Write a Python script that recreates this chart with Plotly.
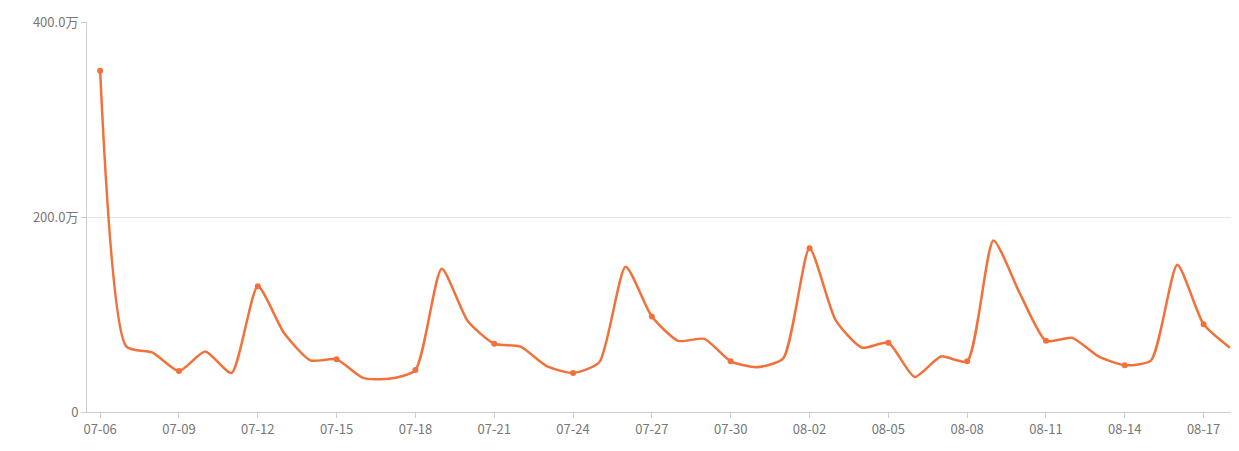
import plotly.graph_objects as go
import datetime as dt

start = dt.date(2024, 7, 6)
dates = [(start + dt.timedelta(days=i)).strftime("%m-%d") for i in range(44)]
values = [350, 67, 61, 42, 62, 40, 129, 81, 53, 54, 35, 34, 43, 147, 93, 70, 67, 47, 40, 51,
          149, 98, 73, 75, 52, 46, 55, 168, 94, 66, 71, 36, 57, 52, 176, 122, 73, 76, 57, 48,
          53, 151, 90, 66]
color = "#F2713A"

fig = go.Figure()
fig.add_trace(go.Scatter(x=dates, y=values, mode="lines",
                         line=dict(color=color, width=2.5, shape="spline", smoothing=0.6),
                         hoverinfo="x+y"))
fig.add_trace(go.Scatter(x=dates[::3], y=values[::3], mode="markers",
                         marker=dict(color=color, size=6), hoverinfo="skip"))
fig.update_layout(
    width=1239, height=451, showlegend=False,
    plot_bgcolor="white", paper_bgcolor="white",
    margin=dict(l=79, r=4, t=14, b=47, autoexpand=False),
    font=dict(family="Microsoft YaHei, Noto Sans CJK SC, sans-serif", size=13, color="#777"),
    xaxis=dict(type="category", range=[-0.5, 43.5], tickmode="array", automargin=False,
               tickvals=dates[::3], ticktext=dates[::3], showgrid=False,
               showline=True, linecolor="#ccc", ticks="outside", ticklen=5, tickcolor="#ccc"),
    yaxis=dict(range=[0, 400], tickvals=[0, 200, 400], ticktext=["0", "200.0万", "400.0万"],
               automargin=False,
               showgrid=True, gridcolor="#e6e6e6", zeroline=False,
               showline=True, linecolor="#ccc", ticks="outside", ticklen=5, tickcolor="#ccc"),
)
fig.write_html("out.html")
